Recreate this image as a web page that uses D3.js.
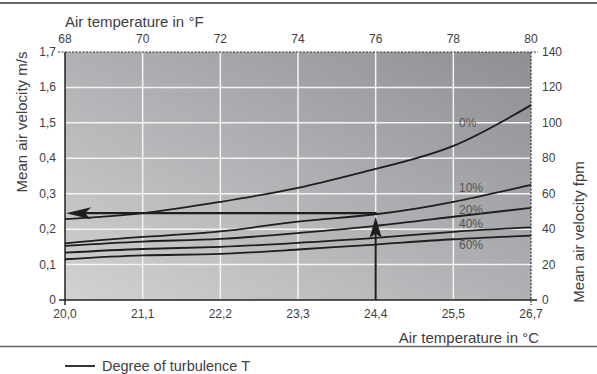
<!DOCTYPE html>
<html>
<head>
<meta charset="utf-8">
<script src="https://cdn.jsdelivr.net/npm/d3@7"></script>
<style>
  body { margin: 0; background: #fff; }
  text { font-family: "Liberation Sans", Arial, sans-serif; fill: #3e3e3e; }
</style>
</head>
<body>
<svg id="chart" width="597" height="374"></svg>
<script>
// temperatures (°F ticks) and matching °C labels
var tempF = [68, 70, 72, 74, 76, 78, 80];
var tempC = ["20,0", "21,1", "22,2", "23,3", "24,4", "25,5", "26,7"];
// right axis in fpm, left axis labels as printed on the original
var fpmTicks = [0, 20, 40, 60, 80, 100, 120, 140];
var msLabels = ["0", "0,1", "0,2", "0,3", "0,4", "1,5", "1,6", "1,7"];
// mean air velocity (fpm) per degree of turbulence, read at each °F tick
var t0  = [45.6, 49, 55.4, 63.3, 74, 87, 110];
var t10 = [32, 35.6, 38.7, 44.2, 48.4, 55.4, 65];
var t20 = [30.5, 33, 34.5, 37.8, 41.9, 47, 52];
var t40 = [26.7, 28.8, 30, 32.3, 35.1, 38.5, 41];
var t60 = [23, 25.2, 26, 28.5, 31.3, 34.3, 36.3];
var seriesNames = ["0%", "10%", "20%", "40%", "60%"];
var labelY = [100, 63, 51, 43, 31];
// example reading: 24,4 °C -> ~49 fpm
var readF = 76, readV = 49, readTip = 47;

var svg = d3.select("#chart");
var margin = {left: 65, right: 66, top: 52, bottom: 74};
var W = 597, H = 374;
var x = d3.scaleLinear().domain([68, 80]).range([margin.left, W - margin.right]);
var y = d3.scaleLinear().domain([0, 140]).range([H - margin.bottom, margin.top]);

// gradient background
var defs = svg.append("defs");
var grad = defs.append("linearGradient").attr("id", "bg")
    .attr("x1", 0).attr("y1", 1).attr("x2", 1).attr("y2", 0);
grad.append("stop").attr("offset", "0%").attr("stop-color", "#d2d2d4");
grad.append("stop").attr("offset", "100%").attr("stop-color", "#8e8f93");

svg.append("line").attr("x1", 0).attr("x2", W).attr("y1", 3).attr("y2", 3)
    .attr("stroke", "#666").attr("stroke-width", 2);
svg.append("line").attr("x1", 0).attr("x2", W).attr("y1", 346.5).attr("y2", 346.5)
    .attr("stroke", "#666").attr("stroke-width", 1.5);

svg.append("rect")
    .attr("x", x(68)).attr("y", y(140))
    .attr("width", x(80) - x(68)).attr("height", y(0) - y(140))
    .attr("fill", "url(#bg)");

// grid
svg.append("g").selectAll("line").data(fpmTicks.slice(1, -1)).enter().append("line")
    .attr("x1", x(68)).attr("x2", x(80))
    .attr("y1", function(d) { return y(d); }).attr("y2", function(d) { return y(d); })
    .attr("stroke", "#f4f4f4").attr("stroke-width", 1.5);
svg.append("g").selectAll("line").data(tempF.slice(1, -1)).enter().append("line")
    .attr("y1", y(0)).attr("y2", y(140))
    .attr("x1", function(d) { return x(d); }).attr("x2", function(d) { return x(d); })
    .attr("stroke", "#f4f4f4").attr("stroke-width", 1.5);

// frame
svg.append("line").attr("x1", x(68) - 7).attr("x2", x(80) + 7)
    .attr("y1", y(140)).attr("y2", y(140))
    .attr("stroke", "#333").attr("stroke-width", 1.2).attr("stroke-dasharray", "2,1.5");
svg.append("line").attr("x1", x(80)).attr("x2", x(80))
    .attr("y1", y(140)).attr("y2", y(0) + 5)
    .attr("stroke", "#333").attr("stroke-width", 1.2).attr("stroke-dasharray", "2,1.5");
svg.append("line").attr("x1", x(68)).attr("x2", x(68))
    .attr("y1", y(140)).attr("y2", y(0) + 5)
    .attr("stroke", "#222").attr("stroke-width", 1.5);
svg.append("line").attr("x1", x(68) - 6).attr("x2", x(80) + 6)
    .attr("y1", y(0)).attr("y2", y(0))
    .attr("stroke", "#222").attr("stroke-width", 1.5);

// tick labels
var fs = "12px";
svg.append("g").selectAll("text").data(tempF).enter().append("text")
    .attr("x", function(d) { return x(d); }).attr("y", 43)
    .attr("text-anchor", "middle").style("font-size", fs).text(function(d) { return d; });
svg.append("g").selectAll("text").data(tempC).enter().append("text")
    .attr("x", function(d, i) { return x(tempF[i]); }).attr("y", 318)
    .attr("text-anchor", "middle").style("font-size", fs).text(function(d) { return d; });
svg.append("g").selectAll("text").data(msLabels).enter().append("text")
    .attr("x", x(68) - 9).attr("y", function(d, i) { return y(fpmTicks[i]) + 4; })
    .attr("text-anchor", "end").style("font-size", fs).text(function(d) { return d; });
svg.append("g").selectAll("text").data(fpmTicks).enter().append("text")
    .attr("x", x(80) + 11).attr("y", function(d) { return y(d) + 4; })
    .attr("text-anchor", "start").style("font-size", fs).text(function(d) { return d; });

// axis titles
svg.append("text").attr("x", x(68)).attr("y", 27).style("font-size", "15px")
    .text("Air temperature in °F");
svg.append("text").attr("x", 539).attr("y", 343).attr("text-anchor", "end")
    .style("font-size", "15px").text("Air temperature in °C");
svg.append("text").attr("transform", "translate(27,122) rotate(-90)")
    .attr("text-anchor", "middle").style("font-size", "15px").text("Mean air velocity m/s");
svg.append("text").attr("transform", "translate(584,232) rotate(-90)")
    .attr("text-anchor", "middle").style("font-size", "15px").text("Mean air velocity fpm");

// curves
var line = d3.line()
    .x(function(d, i) { return x(tempF[i]); })
    .y(function(d) { return y(d); })
    .curve(d3.curveNatural);
var series = [t0, t10, t20, t40, t60];
svg.append("g").selectAll("path").data(series).enter().append("path")
    .attr("d", line).attr("fill", "none")
    .attr("stroke", "#1e1e1e").attr("stroke-width", 1.8);
svg.append("g").selectAll("text").data(seriesNames).enter().append("text")
    .attr("x", 459).attr("y", function(d, i) { return y(labelY[i]) + 4; })
    .style("font-size", fs).style("fill", "#555").text(function(d) { return d; });

// reading arrows
svg.append("line").attr("x1", x(readF)).attr("x2", x(readF))
    .attr("y1", y(0)).attr("y2", y(readTip) + 10)
    .attr("stroke", "#1e1e1e").attr("stroke-width", 2);
svg.append("line").attr("x1", x(readF) + 1).attr("x2", x(68) + 10)
    .attr("y1", y(readV)).attr("y2", y(readV))
    .attr("stroke", "#1e1e1e").attr("stroke-width", 2.2);
var tx = x(readF), ty = y(readTip);
svg.append("path")
    .attr("d", "M" + tx + "," + ty + "L" + (tx + 6) + "," + (ty + 21) + "L" + tx + "," + (ty + 17) +
               "L" + (tx - 6) + "," + (ty + 21) + "Z")
    .attr("fill", "#1e1e1e");
var hx = x(68) + 1, hy = y(readV);
svg.append("path")
    .attr("d", "M" + hx + "," + hy + "L" + (hx + 25) + "," + (hy - 6) + "L" + (hx + 19) + "," + hy +
               "L" + (hx + 25) + "," + (hy + 6) + "Z")
    .attr("fill", "#1e1e1e");

// legend
svg.append("line").attr("x1", 65).attr("x2", 95).attr("y1", 366).attr("y2", 366)
    .attr("stroke", "#1e1e1e").attr("stroke-width", 1.8);
svg.append("text").attr("x", 102).attr("y", 371).style("font-size", "14.5px")
    .text("Degree of turbulence T");
</script>
</body>
</html>
